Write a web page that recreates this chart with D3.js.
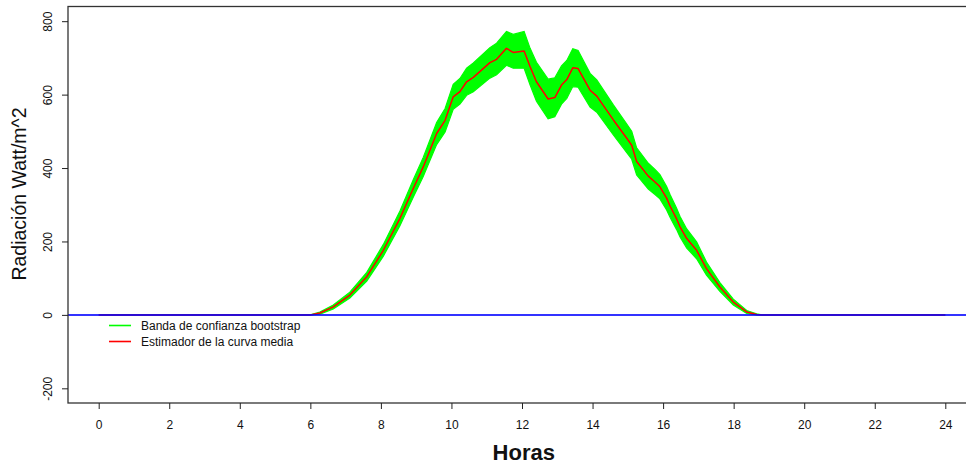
<!DOCTYPE html>
<html>
<head>
<meta charset="utf-8">
<script src="https://cdn.jsdelivr.net/npm/d3@7"></script>
<style>
html,body{margin:0;padding:0;background:#fff;}
svg{display:block;font-family:"Liberation Sans",Arial,sans-serif;}
</style>
</head>
<body>
<svg id="chart" width="966" height="468"></svg>
<script>
// ---- data ----
const hours = [0, 6.0, 6.27, 6.65, 7.12, 7.6, 8.07, 8.54, 8.92, 9.2, 9.58, 9.82, 10.05, 10.24, 10.43, 10.62,
  11.09, 11.28, 11.56, 11.75, 12.06, 12.23, 12.41, 12.74, 12.93, 13.12, 13.27, 13.44, 13.59, 13.93, 14.12,
  14.59, 14.97, 15.11, 15.25, 15.58, 15.77, 15.91, 16.1, 16.2, 16.38, 16.48, 16.67, 16.95, 17.23, 17.61,
  17.99, 18.37, 18.65, 18.8, 24];
const meanCurve = [0, 0, 5, 22, 54, 104, 176, 263, 345, 403, 494, 530, 594, 608, 635, 647,
  687, 696, 726, 715, 719, 676, 635, 588, 592, 626, 641, 673, 671, 612, 596,
  531, 481, 462, 418, 378, 362, 349, 318, 296, 262, 240, 208, 176, 126, 76,
  35, 8, 1, 0, 0];
const bandUpper = [0, 0, 8, 27, 62, 116, 192, 283, 369, 429, 524, 562, 628, 644, 672, 686,
  728, 740, 772, 764, 772, 726, 688, 642, 646, 678, 693, 725, 720, 658, 640,
  572, 520, 500, 455, 413, 396, 382, 350, 327, 291, 268, 234, 199, 144, 88,
  43, 12, 3, 0, 0];
const bandLower = [0, 0, 2, 16, 46, 92, 160, 243, 321, 377, 464, 498, 560, 574, 598, 608,
  645, 654, 680, 672, 672, 626, 582, 534, 540, 574, 590, 622, 620, 566, 552,
  490, 442, 424, 381, 343, 328, 316, 286, 265, 233, 212, 182, 153, 108, 64,
  27, 4, 0, 0, 0];
const xTicks = [0, 2, 4, 6, 8, 10, 12, 14, 16, 18, 20, 22, 24];
const yTicks = [-200, 0, 200, 400, 600, 800];
const legendLabels = ["Banda de confianza bootstrap", "Estimador de la curva media"];
const legendColors = ["#00ff00", "#ff0000"];

// ---- chart ----
const svg = d3.select("#chart");
const L = 68, R = 976, T = 6.5, B = 403;
const x = d3.scaleLinear().domain([-0.87, 24.87]).range([L, R]);
const y = d3.scaleLinear().domain([-240, 840]).range([B, T]);

const pts = hours.map((h, i) => ({h, m: meanCurve[i], u: bandUpper[i], l: bandLower[i]}));

svg.append("defs").append("clipPath").attr("id", "clip")
  .append("rect").attr("x", L).attr("y", T).attr("width", R - L).attr("height", B - T);

const g = svg.append("g").attr("clip-path", "url(#clip)");

// bootstrap band
g.append("path")
  .datum(pts)
  .attr("fill", "#00ff00")
  .attr("stroke", "#00ff00")
  .attr("stroke-width", 1.2)
  .attr("d", d3.area().x(d => x(d.h)).y0(d => y(d.l)).y1(d => y(d.u)));

// mean curve
g.append("path")
  .datum(pts)
  .attr("fill", "none")
  .attr("stroke", "#ff0000")
  .attr("stroke-width", 1.5)
  .attr("stroke-linejoin", "round")
  .attr("d", d3.line().x(d => x(d.h)).y(d => y(d.m)));

// horizontal line at 0
g.append("line")
  .attr("x1", L).attr("x2", R)
  .attr("y1", y(0)).attr("y2", y(0))
  .attr("stroke", "#0000ff").attr("stroke-opacity", 0.8)
  .attr("stroke-width", 2);

// box
svg.append("rect")
  .attr("x", L).attr("y", T).attr("width", R - L).attr("height", B - T)
  .attr("fill", "none").attr("stroke", "#333").attr("stroke-width", 1.3);

// axes
const xAxis = d3.axisBottom(x).tickValues(xTicks).tickSize(6).tickPadding(11).tickFormat(d3.format("d"));
const xg = svg.append("g").attr("transform", `translate(0,${B})`).call(xAxis);
xg.select(".domain").remove();
xg.selectAll("line").attr("stroke", "#222");
xg.selectAll("text").attr("font-size", 12).attr("fill", "#111")
  .attr("font-family", "Liberation Sans, Arial, sans-serif");

const yAxis = d3.axisLeft(y).tickValues(yTicks).tickSize(6).tickFormat(d3.format("d"));
const yg = svg.append("g").attr("transform", `translate(${L},0)`).call(yAxis);
yg.select(".domain").remove();
yg.selectAll("line").attr("stroke", "#222");
yg.selectAll("text").remove();
yg.selectAll(".tick").append("text")
  .attr("transform", "translate(-16,0) rotate(-90)")
  .attr("text-anchor", "middle")
  .attr("font-size", 12).attr("fill", "#111")
  .attr("font-family", "Liberation Sans, Arial, sans-serif")
  .text(d => d);

// axis titles
svg.append("text")
  .attr("x", x(12.05)).attr("y", 460)
  .attr("text-anchor", "middle")
  .attr("font-size", 22).attr("font-weight", "bold").attr("fill", "#111")
  .text("Horas");

svg.append("text")
  .attr("transform", `translate(25.5,194) rotate(-90)`)
  .attr("text-anchor", "middle")
  .attr("font-size", 19.5).attr("fill", "#111")
  .text("Radiación Watt/m^2");

// legend
const lg = svg.append("g");
legendLabels.forEach((lab, i) => {
  const yy = 325.5 + i * 16;
  lg.append("line").attr("x1", 109).attr("x2", 131).attr("y1", yy).attr("y2", yy)
    .attr("stroke", legendColors[i]).attr("stroke-width", 1.6);
  lg.append("text").attr("x", 141).attr("y", yy + 4.3)
    .attr("font-size", 12).attr("fill", "#111").text(lab);
});
</script>
</body>
</html>
